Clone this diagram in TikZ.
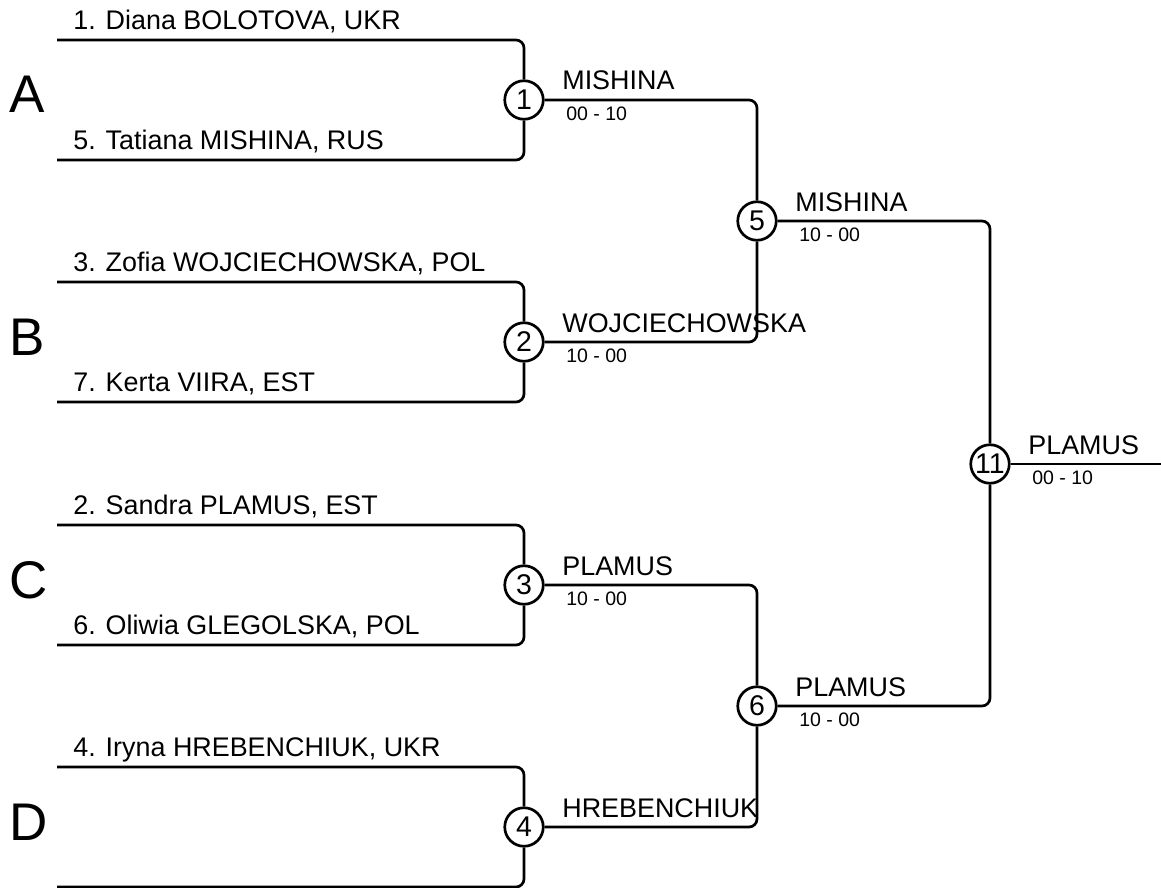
\documentclass[tikz,border=0pt]{standalone}
\usepackage{fontspec}
\setmainfont{Liberation Sans}
\begin{document}
\begin{tikzpicture}[x=1pt, y=-1pt, line width=2.7pt]
        \tikzstyle{every node}=[inner sep=0pt]
        \tikzstyle{bout}=[draw, circle, minimum size=38.5pt, fill=white, font=\fontsize{28.5}{28}\selectfont]
        \tikzstyle{wire}=[rounded corners=8pt]
        \tikzstyle{player}=[anchor=base west, font=\fontsize{26.9}{30}\selectfont]
        \tikzstyle{winner}=[anchor=base west, font=\fontsize{26.9}{30}\selectfont]
        \tikzstyle{score}=[anchor=base west, font=\fontsize{19.5}{22}\selectfont]
        \tikzstyle{pool}=[anchor=base west, font=\fontsize{53}{56}\selectfont]

        \useasboundingbox (0,0) rectangle (1161,888);

% pools
        \node[pool] (A) at (8,113) {A};
        \node[pool] (B) at (8,355) {B};
        \node[pool] (C) at (8,598) {C};
        \node[pool] (D) at (8,840) {D};

% bouts
        \node[bout] (m1) at (524,100) {1};
        \node[bout] (m2) at (524,342) {2};
        \node[bout] (m3) at (524,585) {3};
        \node[bout] (m4) at (524,827) {4};
        \node[bout] (m5) at (757,221) {5};
        \node[bout] (m6) at (757,706) {6};
        \node[bout] (m11) at (990,464) {11};

% entries
        \coordinate (p1) at (57,40);  \coordinate (p5) at (57,160);
        \coordinate (p3) at (57,282); \coordinate (p7) at (57,402);
        \coordinate (p2) at (57,525); \coordinate (p6) at (57,645);
        \coordinate (p4) at (57,767); \coordinate (p8) at (57,887);
        \coordinate (fin) at (1161,464);

        \node[player] (n1) at (72,29.5) {1. Diana BOLOTOVA, UKR};
        \node[player] (n5) at (72,149.5) {5. Tatiana MISHINA, RUS};
        \node[player] (n3) at (72,271.5) {3. Zofia WOJCIECHOWSKA, POL};
        \node[player] (n7) at (72,391.5) {7. Kerta VIIRA, EST};
        \node[player] (n2) at (72,514.5) {2. Sandra PLAMUS, EST};
        \node[player] (n6) at (72,634.5) {6. Oliwia GLEGOLSKA, POL};
        \node[player] (n4) at (72,756.5) {4. Iryna HREBENCHIUK, UKR};

% lines
        \draw[wire] (p1) -| (m1);  \draw[wire] (p5) -| (m1);
        \draw[wire] (p3) -| (m2);  \draw[wire] (p7) -| (m2);
        \draw[wire] (p2) -| (m3);  \draw[wire] (p6) -| (m3);
        \draw[wire] (p4) -| (m4);  \draw[wire] (p8) -| (m4);
        \draw[wire] (m1) -| (m5);  \draw[wire] (m2) -| (m5);
        \draw[wire] (m3) -| (m6);  \draw[wire] (m4) -| (m6);
        \draw[wire] (m5) -| (m11); \draw[wire] (m6) -| (m11);
        \draw (m11) -- (fin);

% results
        \node[winner] (w1) at (561,90) {MISHINA};
        \node[score] (s1) at (565,120.5) {00 - 10};
        \node[winner] (w2) at (561,332) {WOJCIECHOWSKA};
        \node[score] (s2) at (565,362.5) {10 - 00};
        \node[winner] (w3) at (561,575) {PLAMUS};
        \node[score] (s3) at (565,605.5) {10 - 00};
        \node[winner] (w4) at (561,817) {HREBENCHIUK};
        \node[winner] (w5) at (794,211) {MISHINA};
        \node[score] (s5) at (798,241.5) {10 - 00};
        \node[winner] (w6) at (794,696) {PLAMUS};
        \node[score] (s6) at (798,726.5) {10 - 00};
        \node[winner] (w11) at (1027,454) {PLAMUS};
        \node[score] (s11) at (1031,484.5) {00 - 10};

    \end{tikzpicture}
\end{document}
